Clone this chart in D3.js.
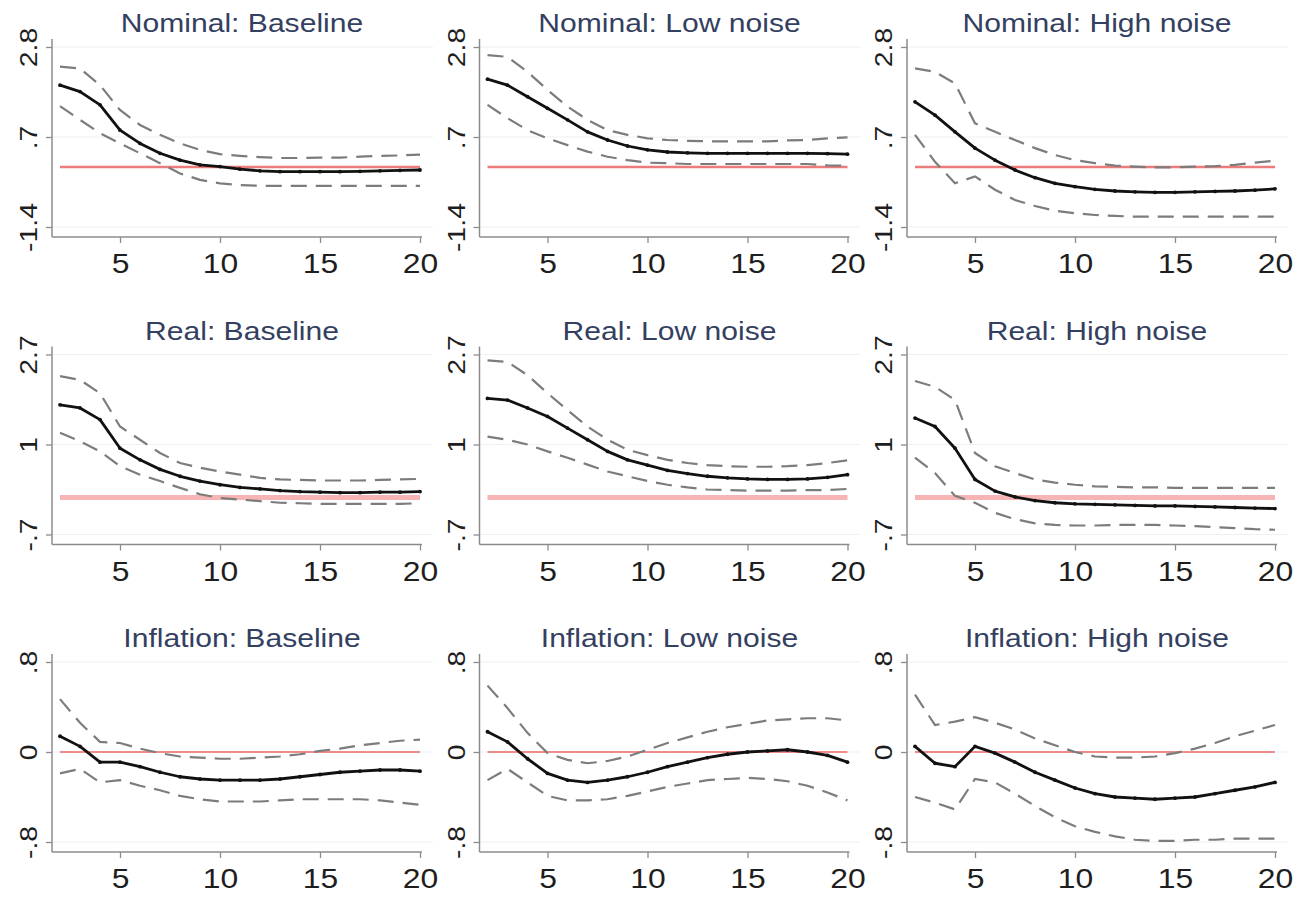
<!DOCTYPE html>
<html>
<head>
<meta charset="utf-8">
<script src="https://cdn.jsdelivr.net/npm/d3@7"></script>
<style>
  body { margin: 0; background: #fff; }
  svg { display: block; font-family: "Liberation Sans", Arial, sans-serif; }
</style>
</head>
<body>
<svg id="chart" width="1302" height="897"></svg>
<script>
// horizons on the x axis
const horizons = [2, 3, 4, 5, 6, 7, 8, 9, 10, 11, 12, 13, 14, 15, 16, 17, 18, 19, 20];
const xTicks = [5, 10, 15, 20];

const rowNames = ["Nominal", "Real", "Inflation"];
const colNames = ["Baseline", "Low noise", "High noise"];

const yTickValues = [[-1.4, 0.7, 2.8], [-0.7, 1, 2.7], [-0.8, 0, 0.8]];
const yTickLabels = [["-1.4", ".7", "2.8"], ["-.7", "1", "2.7"], ["-.8", "0", ".8"]];

// Nominal
const nomBaseEst = [1.91, 1.76, 1.45, 0.86, 0.55, 0.32, 0.16, 0.05, 0.01, -0.05, -0.09, -0.11, -0.11, -0.11, -0.11, -0.10, -0.09, -0.08, -0.07];
const nomBaseUp  = [2.34, 2.30, 1.91, 1.33, 0.98, 0.75, 0.55, 0.40, 0.30, 0.26, 0.23, 0.21, 0.21, 0.22, 0.22, 0.24, 0.26, 0.27, 0.29];
const nomBaseLo  = [1.42, 1.10, 0.79, 0.55, 0.32, 0.09, -0.15, -0.30, -0.38, -0.42, -0.44, -0.44, -0.44, -0.44, -0.44, -0.44, -0.44, -0.44, -0.44];

const nomLowEst = [2.05, 1.91, 1.64, 1.37, 1.10, 0.82, 0.63, 0.49, 0.40, 0.35, 0.33, 0.32, 0.32, 0.32, 0.32, 0.32, 0.32, 0.31, 0.30];
const nomLowUp  = [2.61, 2.57, 2.22, 1.80, 1.41, 1.10, 0.86, 0.75, 0.67, 0.63, 0.61, 0.60, 0.60, 0.60, 0.60, 0.62, 0.63, 0.67, 0.69];
const nomLowLo  = [1.45, 1.14, 0.86, 0.67, 0.51, 0.36, 0.24, 0.16, 0.10, 0.09, 0.07, 0.07, 0.07, 0.07, 0.07, 0.07, 0.07, 0.04, 0.03];

const nomHighEst = [1.52, 1.21, 0.82, 0.44, 0.16, -0.07, -0.25, -0.38, -0.46, -0.52, -0.56, -0.58, -0.59, -0.59, -0.58, -0.57, -0.56, -0.54, -0.51];
const nomHighUp  = [2.30, 2.22, 1.95, 1.02, 0.82, 0.63, 0.44, 0.28, 0.16, 0.09, 0.03, 0.01, -0.01, -0.01, 0.01, 0.02, 0.05, 0.10, 0.15];
const nomHighLo  = [0.75, 0.12, -0.38, -0.22, -0.53, -0.77, -0.91, -1.02, -1.08, -1.12, -1.14, -1.16, -1.16, -1.16, -1.16, -1.16, -1.16, -1.16, -1.16];

// Real
const realBaseEst = [1.75, 1.69, 1.47, 0.93, 0.71, 0.53, 0.40, 0.31, 0.24, 0.19, 0.16, 0.13, 0.11, 0.10, 0.09, 0.09, 0.10, 0.10, 0.11];
const realBaseUp  = [2.29, 2.22, 1.97, 1.34, 1.09, 0.84, 0.65, 0.56, 0.49, 0.43, 0.37, 0.34, 0.33, 0.32, 0.32, 0.32, 0.33, 0.34, 0.35];
const realBaseLo  = [1.22, 1.06, 0.87, 0.59, 0.43, 0.31, 0.18, 0.06, -0.01, -0.04, -0.07, -0.10, -0.11, -0.12, -0.12, -0.12, -0.12, -0.12, -0.11];

const realLowEst = [1.87, 1.84, 1.69, 1.53, 1.31, 1.09, 0.87, 0.71, 0.61, 0.51, 0.45, 0.40, 0.37, 0.35, 0.34, 0.34, 0.35, 0.38, 0.43];
const realLowUp  = [2.59, 2.56, 2.31, 1.97, 1.65, 1.34, 1.09, 0.90, 0.80, 0.71, 0.65, 0.61, 0.59, 0.58, 0.58, 0.59, 0.61, 0.65, 0.70];
const realLowLo  = [1.15, 1.09, 1.00, 0.87, 0.75, 0.62, 0.49, 0.40, 0.31, 0.24, 0.19, 0.15, 0.14, 0.13, 0.13, 0.13, 0.14, 0.14, 0.16];

const realHighEst = [1.50, 1.34, 0.93, 0.34, 0.12, 0.01, -0.06, -0.10, -0.12, -0.13, -0.14, -0.15, -0.16, -0.16, -0.17, -0.18, -0.19, -0.20, -0.21];
const realHighUp  = [2.20, 2.09, 1.84, 0.84, 0.59, 0.46, 0.34, 0.28, 0.24, 0.21, 0.20, 0.19, 0.19, 0.18, 0.18, 0.18, 0.18, 0.18, 0.18];
const realHighLo  = [0.75, 0.46, 0.03, -0.10, -0.29, -0.41, -0.49, -0.52, -0.53, -0.53, -0.52, -0.52, -0.52, -0.53, -0.54, -0.56, -0.58, -0.60, -0.61];

// Inflation
const inflBaseEst = [0.14, 0.05, -0.09, -0.09, -0.13, -0.18, -0.22, -0.24, -0.25, -0.25, -0.25, -0.24, -0.22, -0.20, -0.18, -0.17, -0.16, -0.16, -0.17];
const inflBaseUp  = [0.47, 0.26, 0.09, 0.08, 0.03, -0.01, -0.04, -0.05, -0.06, -0.06, -0.05, -0.04, -0.02, 0.01, 0.03, 0.06, 0.08, 0.10, 0.11];
const inflBaseLo  = [-0.19, -0.15, -0.27, -0.25, -0.30, -0.34, -0.39, -0.42, -0.44, -0.44, -0.44, -0.43, -0.42, -0.42, -0.42, -0.42, -0.43, -0.45, -0.47];

const inflLowEst = [0.18, 0.09, -0.06, -0.19, -0.25, -0.27, -0.25, -0.22, -0.18, -0.13, -0.09, -0.05, -0.02, 0.00, 0.01, 0.02, 0.00, -0.03, -0.09];
const inflLowUp  = [0.59, 0.39, 0.17, -0.01, -0.07, -0.10, -0.08, -0.04, 0.02, 0.08, 0.13, 0.18, 0.22, 0.25, 0.28, 0.29, 0.30, 0.30, 0.28];
const inflLowLo  = [-0.25, -0.15, -0.27, -0.39, -0.43, -0.43, -0.42, -0.39, -0.35, -0.31, -0.28, -0.25, -0.24, -0.23, -0.24, -0.26, -0.30, -0.36, -0.43];

const inflHighEst = [0.05, -0.10, -0.13, 0.05, -0.01, -0.09, -0.18, -0.25, -0.32, -0.37, -0.40, -0.41, -0.42, -0.41, -0.40, -0.37, -0.34, -0.31, -0.27];
const inflHighUp  = [0.51, 0.24, 0.27, 0.31, 0.26, 0.20, 0.12, 0.06, 0.00, -0.04, -0.05, -0.05, -0.04, -0.01, 0.03, 0.08, 0.14, 0.19, 0.24];
const inflHighLo  = [-0.40, -0.45, -0.51, -0.24, -0.27, -0.37, -0.48, -0.58, -0.66, -0.71, -0.75, -0.78, -0.79, -0.79, -0.78, -0.78, -0.77, -0.77, -0.77];

const panels = [
  [nomBaseEst, nomBaseUp, nomBaseLo], [nomLowEst, nomLowUp, nomLowLo], [nomHighEst, nomHighUp, nomHighLo],
  [realBaseEst, realBaseUp, realBaseLo], [realLowEst, realLowUp, realLowLo], [realHighEst, realHighUp, realHighLo],
  [inflBaseEst, inflBaseUp, inflBaseLo], [inflLowEst, inflLowUp, inflLowLo], [inflHighEst, inflHighUp, inflHighLo]
];

const svg = d3.select("#chart");
const stretch = 1.18; // glyphs in the reference are wider than Arial
const plotH = 180;
const refWidth = [2.5, 5, 2.2];
const refColor = ["#ec7b7b", "#f7b4b4", "#f08c8c"];

panels.forEach((series, i) => {
  const r = Math.floor(i / 3), c = i % 3;
  const axisX = 52 + c * 427.5;
  const top = 47 + r * 307.5;
  const x = d3.scaleLinear().domain([2, 20]).range([axisX + 8, axisX + 368]);
  const y = d3.scaleLinear().domain([yTickValues[r][0], yTickValues[r][2]]).range([top + plotH, top]);
  const baseY = top + plotH + 10;
  const g = svg.append("g");

  // faint grid
  g.selectAll(".grid").data(yTickValues[r]).enter().append("line")
    .attr("x1", axisX).attr("x2", x(20) + 13)
    .attr("y1", d => y(d)).attr("y2", d => y(d))
    .attr("stroke", "#eef0f3").attr("stroke-width", 1.2);

  // axes
  const xAxis = g.append("g").attr("transform", `translate(0,${baseY})`)
    .call(d3.axisBottom(x).tickValues(xTicks).tickSize(6).tickSizeOuter(0));
  xAxis.select(".domain").remove();
  xAxis.append("line").attr("x1", axisX).attr("x2", x(20) + 2).attr("stroke", "#8c8c8c").attr("stroke-width", 1.5);
  xAxis.selectAll(".tick line").attr("stroke", "#8c8c8c").attr("stroke-width", 1.3);
  xAxis.selectAll(".tick text")
    .attr("y", null).attr("dy", null)
    .attr("transform", `translate(0,36) scale(${stretch},1)`)
    .attr("font-size", 27).attr("fill", "#1e1e1e");

  const yAxis = g.append("g").attr("transform", `translate(${axisX},0)`)
    .call(d3.axisLeft(y).tickValues(yTickValues[r]).tickFormat((d, k) => yTickLabels[r][k]).tickSize(6).tickSizeOuter(0));
  yAxis.select(".domain").remove();
  yAxis.append("line").attr("y1", top - 8).attr("y2", baseY).attr("stroke", "#8c8c8c").attr("stroke-width", 1.5);
  yAxis.selectAll(".tick line").attr("stroke", "#8c8c8c").attr("stroke-width", 1.3);
  yAxis.selectAll(".tick text")
    .attr("x", null).attr("dy", null).attr("text-anchor", "middle")
    .attr("transform", `translate(-15,0) rotate(-90) scale(${stretch},1)`)
    .attr("font-size", 24).attr("fill", "#1e1e1e");
  svg.selectAll("g[font-family]").attr("font-family", null);

  // zero reference line
  g.append("line")
    .attr("x1", x(2)).attr("x2", x(20)).attr("y1", y(0)).attr("y2", y(0))
    .attr("stroke", refColor[r]).attr("stroke-width", refWidth[r]);

  const line = d3.line().x((d, k) => x(horizons[k])).y(d => y(d));

  // confidence bands
  [series[1], series[2]].forEach(band => {
    g.append("path").attr("d", line(band))
      .attr("fill", "none").attr("stroke", "#7c7c7c").attr("stroke-width", 2.2)
      .attr("stroke-dasharray", "16,9");
  });

  // point estimate
  g.append("path").attr("d", line(series[0]))
    .attr("fill", "none").attr("stroke", "#111").attr("stroke-width", 2.8)
    .attr("stroke-linejoin", "round");
  g.selectAll(".pt").data(series[0]).enter().append("circle")
    .attr("cx", (d, k) => x(horizons[k])).attr("cy", d => y(d))
    .attr("r", 1.9).attr("fill", "#111");

  // title
  g.append("text")
    .attr("transform", `translate(${axisX + 190},${top - 15}) scale(${stretch},1)`)
    .attr("text-anchor", "middle").attr("font-size", 25.5).attr("fill", "#34405f")
    .text(`${rowNames[r]}: ${colNames[c]}`);
});
</script>
</body>
</html>
